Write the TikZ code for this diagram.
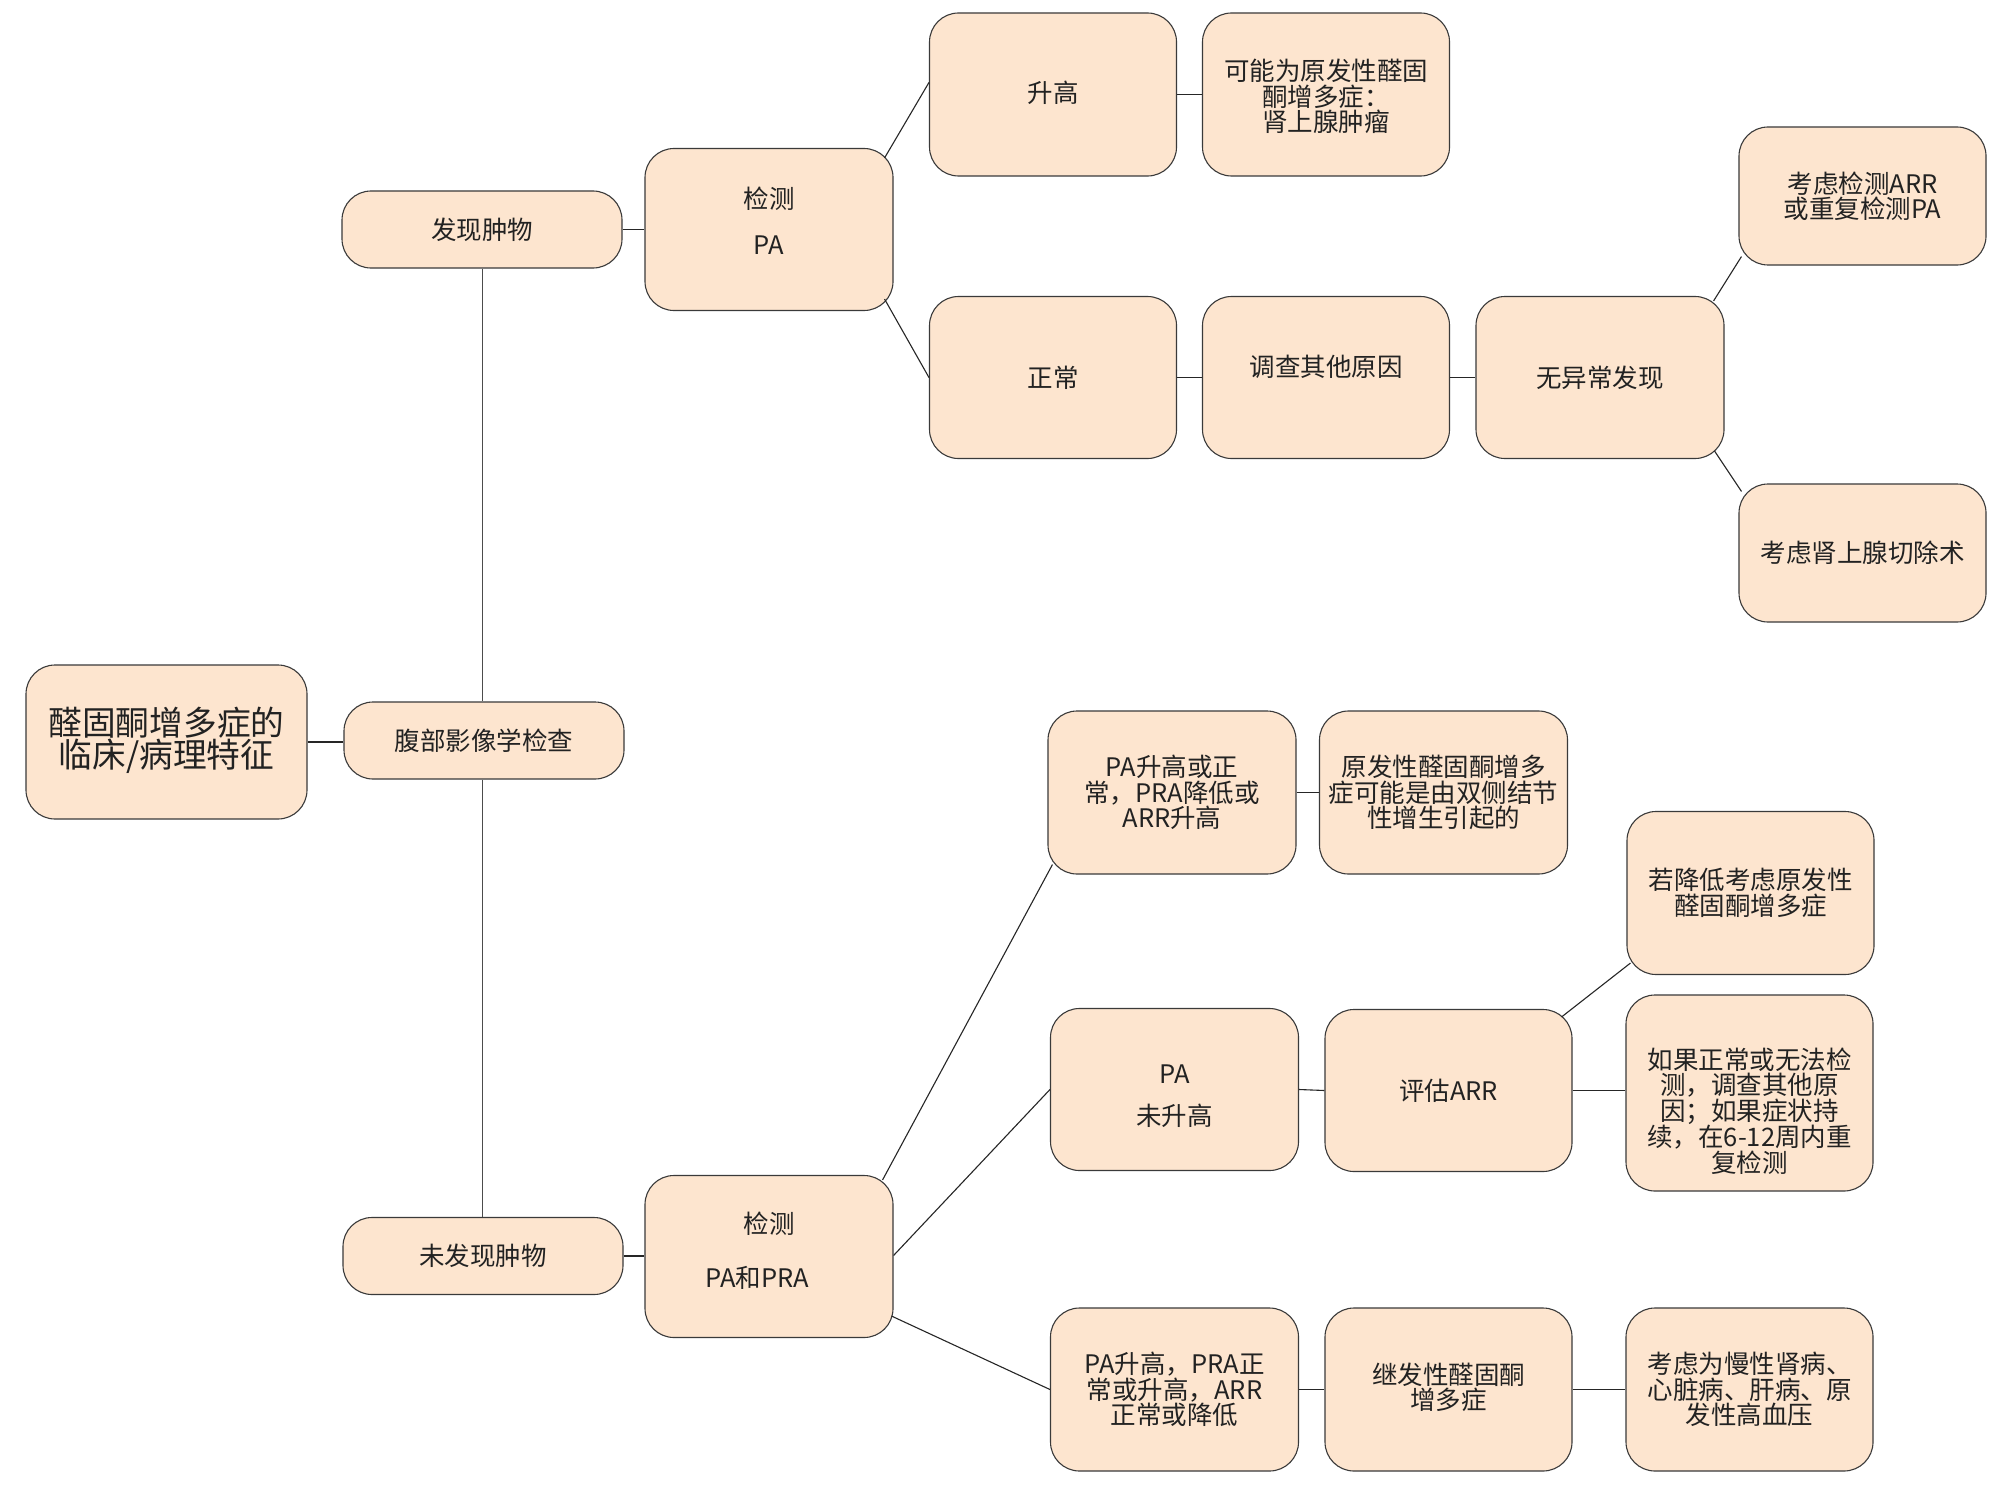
\documentclass[tikz,border=0pt]{standalone}
\usepackage{fontspec}
\newfontfamily\cjk{Noto Sans CJK SC}
\usetikzlibrary{calc}
\definecolor{boxfill}{HTML}{FDE5CF}
\definecolor{boxline}{HTML}{3A3A3A}
\definecolor{txt}{HTML}{222222}
\newcommand{\shifttext}[2]{\raisebox{#1}[\height][\depth]{\parbox{240pt}{\centering #2}}}
\tikzset{
  base/.style={draw=boxline, line width=1.1pt, fill=boxfill, rounded corners=29pt,
    inner sep=0pt, align=center, text=txt, font=\cjk\fontsize{25.5}{25.5}\selectfont},
  bigbox/.style={base, minimum width=248pt, minimum height=162pt},
  pill/.style={base, minimum width=280pt, minimum height=77pt},
  link/.style={draw=black!85, line width=1.1pt},
  trunk/.style={draw=black!70, line width=0.8pt}
}
\begin{document}
\begin{tikzpicture}[x=1pt, y=-1pt]
\useasboundingbox[fill=white] (0,0) rectangle (2004,1490);
% left column
\node[base, minimum width=281pt, minimum height=154pt, font=\cjk\fontsize{33.7}{32}\selectfont] (root) at (166.5,742) {\shifttext{2pt}{醛固酮增多症的\\临床/病理特征}};
\node[pill] (img) at (484,740.5) {腹部影像学检查};
\node[pill] (found) at (482,229.5) {发现肿物};
\node[pill] (nofound) at (483,1256) {未发现肿物};
% upper branch
\node[bigbox] (pa) at (769,229.5) {\shifttext{9pt}{检测\\[20.5pt]PA}};
\node[bigbox, minimum width=247pt, minimum height=163pt] (up) at (1053,94.5) {\shifttext{2pt}{升高}};
\node[bigbox, minimum width=247pt, minimum height=163pt] (prim) at (1326,94.5) {\shifttext{-2pt}{可能为原发性醛固\\酮增多症：\\肾上腺肿瘤}};
\node[bigbox, minimum width=247pt] (norm) at (1053,377.5) {正常};
\node[bigbox, minimum width=247pt] (inv) at (1326,377.5) {\shifttext{11pt}{调查其他原因}};
\node[bigbox] (noab) at (1600,377.5) {无异常发现};
\node[bigbox, minimum width=247pt, minimum height=138pt] (arr) at (1862.5,196) {考虑检测ARR\\或重复检测PA};
\node[bigbox, minimum width=247pt, minimum height=138pt] (adr) at (1862.5,553) {考虑肾上腺切除术};
% lower branch
\node[bigbox] (papra) at (769,1256.5) {\shifttext{6pt}{检测\\[28pt]PA和PRA\hspace*{24pt}}};
\node[bigbox, minimum height=163pt] (b1) at (1172,792.5) {PA升高或正\\常，PRA降低或\\ARR升高};
\node[bigbox, minimum height=163pt] (b1r) at (1443.5,792.5) {原发性醛固酮增多\\症可能是由双侧结节\\性增生引起的};
\node[bigbox, minimum width=247pt, minimum height=163pt] (low) at (1750.5,893) {若降低考虑原发性\\醛固酮增多症};
\node[bigbox] (b2) at (1174.5,1089.5) {\shifttext{-7pt}{PA\\[16.5pt]未升高}};
\node[bigbox, minimum width=247pt] (eval) at (1448.5,1090.5) {评估ARR};
\node[bigbox, minimum width=247pt, minimum height=196pt] (ifn) at (1749.5,1093) {\shifttext{-18pt}{如果正常或无法检\\测，调查其他原\\因；如果症状持\\续，在6-12周内重\\复检测}};
\node[bigbox, minimum height=163pt] (b3) at (1174.5,1389.5) {PA升高，PRA正\\常或升高，ARR\\正常或降低};
\node[bigbox, minimum width=247pt, minimum height=163pt] (sec) at (1448.5,1389.5) {\shifttext{2pt}{继发性醛固酮\\增多症}};
\node[bigbox, minimum width=247pt, minimum height=163pt] (cons) at (1749.5,1389.5) {考虑为慢性肾病、\\心脏病、肝病、原\\发性高血压};
% connectors
\draw[link] (root.east) -- (img.west |- root.east);
\draw[trunk] (found.south) -- (found.south |- img.north);
\draw[trunk] (found.south |- img.south) -- (found.south |- nofound.north);
\draw[link] (found.east) -- (pa.west);
\draw[link] ($(pa.north east)+(-9,10)$) -- ($(up.west)+(0,-12)$);
\draw[link] ($(pa.south east)+(-9,-12)$) -- (norm.west);
\draw[link] (up.east) -- (prim.west);
\draw[link] (norm.east) -- (inv.west);
\draw[link] (inv.east) -- (noab.west);
\draw[link] ($(noab.north east)+(-11,5)$) -- ($(arr.south west)+(3,-9)$);
\draw[link] ($(noab.south east)+(-10,-8)$) -- ($(adr.north west)+(3,8)$);
\draw[link] (nofound.east) -- (papra.west |- nofound.east);
\draw[link] ($(papra.north east)+(-11,5)$) -- ($(b1.south west)+(5,-10)$);
\draw[link] ($(papra.east)+(0,-1)$) -- (b2.west);
\draw[link] ($(papra.south east)+(-2,-22)$) -- (b3.west);
\draw[link] (b1.east) -- (b1r.west);
\draw[link] (b2.east) -- (eval.west);
\draw[link] ($(eval.north east)+(-11,8)$) -- ($(low.south west)+(4,-12)$);
\draw[link] (eval.east) -- (ifn.west |- eval.east);
\draw[link] (b3.east) -- (sec.west);
\draw[link] (sec.east) -- (cons.west);
\end{tikzpicture}
\end{document}
